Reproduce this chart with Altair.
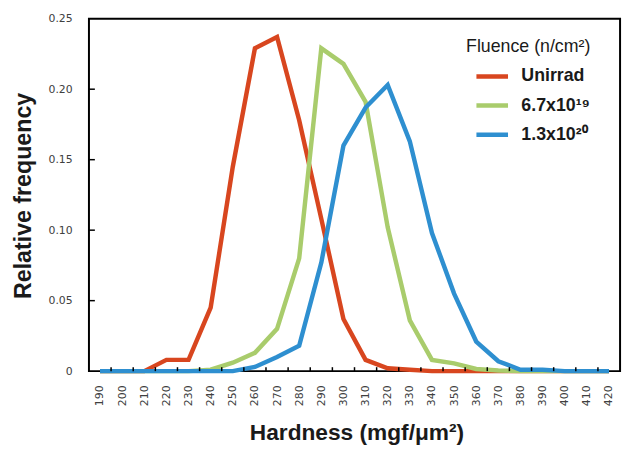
import altair as alt
import pandas as pd

hardness = [190, 200, 210, 220, 230, 240, 250, 260, 270, 280, 290, 300,
            310, 320, 330, 340, 350, 360, 370, 380, 390, 400, 410, 420]
series_names = ["Unirrad", "6.7x10\u00b9\u2079", "1.3x10\u00b2\u2070"]
unirrad = [0, 0, 0, 0.008, 0.008, 0.045, 0.145, 0.229, 0.237, 0.178, 0.108, 0.037,
           0.008, 0.002, 0.001, 0, 0, 0, 0, 0, 0, 0, 0, 0]
fluence_67e19 = [0, 0, 0, 0, 0, 0.001, 0.006, 0.013, 0.030, 0.080, 0.229, 0.218,
                 0.191, 0.102, 0.036, 0.008, 0.0055, 0.0015, 0.0005, 0, 0, 0, 0, 0]
fluence_13e20 = [0, 0, 0, 0, 0, 0, 0, 0.003, 0.010, 0.018, 0.077, 0.160,
                 0.187, 0.203, 0.163, 0.098, 0.055, 0.021, 0.007, 0.001, 0.001, 0, 0, 0]
colors = ["#D8461F", "#A9CC6C", "#2E8FD0"]
y_ticks = [0, 0.05, 0.10, 0.15, 0.20, 0.25]
x_minor_ticks = [195, 205, 215, 225, 235, 245, 255, 265, 275, 285, 295, 305,
                 315, 325, 335, 345, 355, 365, 375, 385, 395, 405, 415]

rows = []
for name, vals in zip(series_names, [unirrad, fluence_67e19, fluence_13e20]):
    for i, (h, v) in enumerate(zip(hardness, vals)):
        rows.append({"hardness": h, "freq": v, "series": name, "order": i})
df = pd.DataFrame(rows)

W, H = 538, 357
xscale = alt.Scale(domain=[185, 425], nice=False, zero=False)
yscale = alt.Scale(domain=[0, 0.25], nice=False)

x_axis = alt.Axis(values=hardness, format="d", labelAngle=270, ticks=False,
                  domain=False, grid=False, labelPadding=14,
                  labelOverlap=False, labelFlush=False,
                  labelFont="DejaVu Sans", labelFontSize=11, labelColor="#404040",
                  title="Hardness (mgf/\u03bcm\u00b2)", titleFont="Liberation Sans",
                  titleFontSize=23, titleFontWeight="bold", titleColor="#1a1a1a",
                  titleBaseline="alphabetic", titleY=69, titleX=271)
y_axis = alt.Axis(values=y_ticks, ticks=False, domain=False, grid=False,
                  labelExpr="datum.value == 0 ? '0' : format(datum.value, '.2f')",
                  labelOverlap=False, labelFlush=False,
                  labelPadding=17, labelFont="DejaVu Sans", labelFontSize=11,
                  labelColor="#404040",
                  title="Relative frequency", titleFont="Liberation Sans",
                  titleFontSize=23.5, titleFontWeight="bold", titleColor="#1a1a1a",
                  titleAngle=270, titleBaseline="alphabetic", titleAlign="center",
                  titleX=-59, titleY=179)

lines = alt.Chart(df).mark_line(strokeWidth=4.5, strokeJoin="miter").encode(
    x=alt.X("hardness:Q", scale=xscale, axis=x_axis),
    y=alt.Y("freq:Q", scale=yscale, axis=y_axis),
    color=alt.Color("series:N",
                    scale=alt.Scale(domain=series_names, range=colors),
                    legend=alt.Legend(title="Fluence (n/cm\u00b2)", orient="none",
                                      legendX=382, legendY=20, padding=0,
                                      symbolType="stroke", symbolSize=1024,
                                      symbolStrokeWidth=4.5, symbolOffset=8,
                                      labelOffset=11, rowPadding=1.5, titlePadding=2,
                                      titleFont="Liberation Sans", titleFontSize=18,
                                      titleFontWeight="normal", titleColor="#1a1a1a",
                                      labelFont="Liberation Sans", labelFontSize=18,
                                      labelFontWeight="bold", labelColor="#1a1a1a")),
    order="order:Q",
)

xt = alt.Chart(pd.DataFrame({"hardness": x_minor_ticks})).mark_rule(color="black", strokeWidth=1.5).encode(
    x=alt.X("hardness:Q", scale=xscale, axis=x_axis),
    y=alt.value(H), y2=alt.value(H - 4),
)
yt = alt.Chart(pd.DataFrame({"freq": y_ticks[1:-1]})).mark_rule(color="black", strokeWidth=1.5).encode(
    y=alt.Y("freq:Q", scale=yscale, axis=y_axis),
    x=alt.value(0), x2=alt.value(6),
)

chart = alt.layer(lines, xt, yt).properties(
    width=W, height=H,
    autosize=alt.AutoSizeParams(type="none"),
    padding={"left": 82, "top": 8, "right": 5, "bottom": 74},
    background="white",
).configure_view(stroke="black", strokeWidth=2).configure_axis(labelOverlap=False)

chart.save("out.html", embed_options={"renderer": "svg", "actions": False})
